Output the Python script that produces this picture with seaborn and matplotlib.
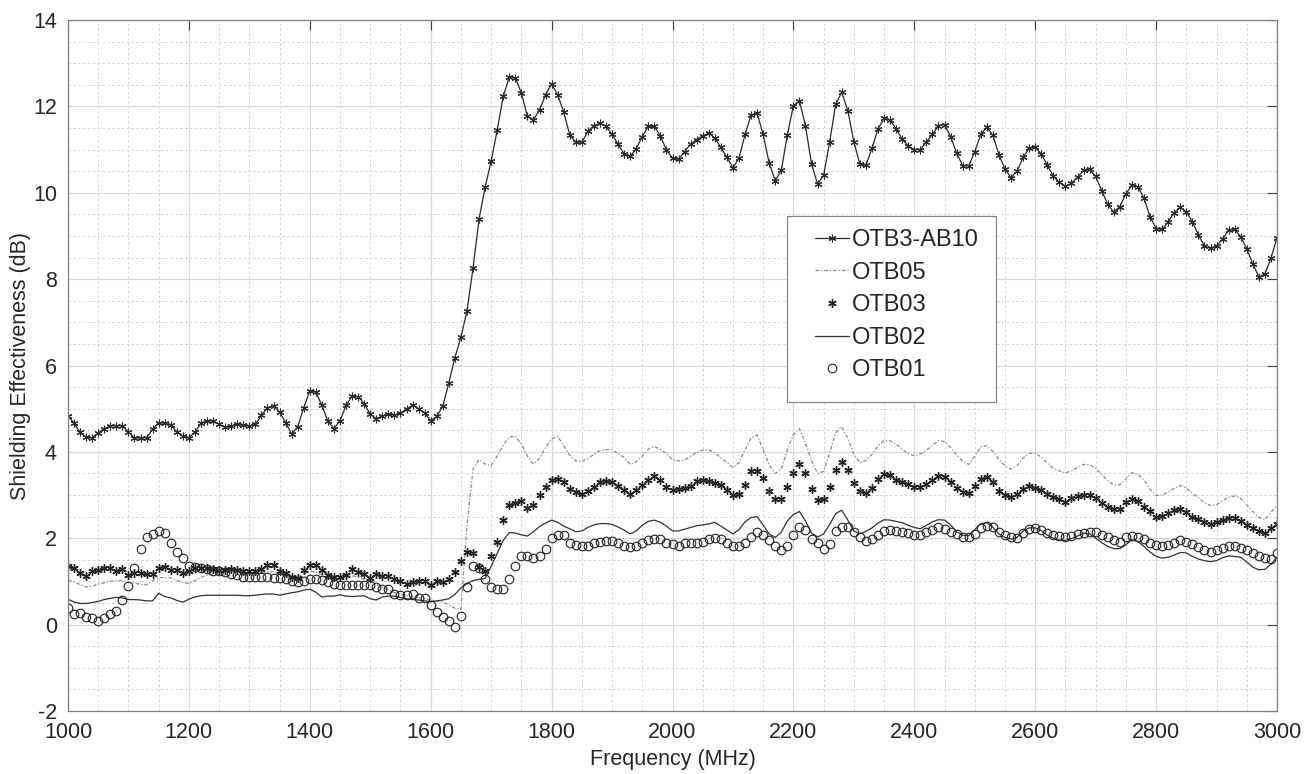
import numpy as np
import pandas as pd
import matplotlib
matplotlib.use("Agg")
import matplotlib.pyplot as plt
from matplotlib.ticker import MultipleLocator
from matplotlib.patches import Rectangle
import seaborn as sns

# Frequency axis (MHz), 10 MHz steps
freq = np.arange(1000, 3010, 10)

otb3_ab10 = [
 4.83,4.67,4.45,4.34,4.33,4.44,4.54,4.60,4.61,4.60,
 4.46,4.32,4.32,4.33,4.52,4.68,4.66,4.62,4.46,4.37,
 4.33,4.46,4.66,4.71,4.72,4.64,4.57,4.60,4.64,4.62,
 4.60,4.64,4.85,5.02,5.07,4.92,4.68,4.41,4.58,5.02,
 5.42,5.38,5.08,4.71,4.54,4.72,5.08,5.29,5.28,5.12,
 4.87,4.77,4.83,4.87,4.85,4.90,4.99,5.08,5.00,4.90,
 4.72,4.82,5.06,5.60,6.18,6.66,7.26,8.25,9.39,10.13,
 10.73,11.45,12.23,12.68,12.66,12.31,11.77,11.69,11.92,12.27,
 12.52,12.27,11.87,11.34,11.17,11.17,11.42,11.55,11.61,11.54,
 11.35,11.12,10.90,10.84,11.02,11.30,11.54,11.54,11.31,10.99,
 10.80,10.78,10.95,11.13,11.23,11.32,11.38,11.27,11.05,10.82,
 10.58,10.80,11.35,11.80,11.84,11.35,10.68,10.28,10.52,11.34,
 12.02,12.12,11.55,10.67,10.20,10.40,11.18,12.05,12.33,11.90,
 11.18,10.66,10.64,11.03,11.48,11.72,11.68,11.48,11.24,11.08,
 11.00,11.00,11.17,11.35,11.55,11.58,11.30,10.92,10.63,10.62,
 10.95,11.35,11.52,11.33,10.88,10.55,10.35,10.50,10.82,11.03,
 11.05,10.90,10.64,10.38,10.24,10.15,10.22,10.36,10.52,10.54,
 10.38,10.05,9.73,9.55,9.68,9.97,10.18,10.14,9.87,9.45,
 9.17,9.15,9.33,9.54,9.66,9.56,9.33,9.02,8.77,8.71,
 8.77,8.93,9.13,9.15,8.98,8.70,8.35,8.05,8.12,8.48,
 8.96]

otb05 = [
 1.02,0.99,0.93,0.87,0.89,0.94,0.97,1.00,1.02,1.02,
 0.98,0.96,0.93,0.92,1.02,1.09,1.09,1.08,1.03,0.98,
 0.95,1.02,1.10,1.14,1.17,1.16,1.13,1.13,1.15,1.16,
 1.15,1.15,1.18,1.22,1.23,1.18,1.12,1.07,1.10,1.18,
 1.24,1.22,1.15,1.08,1.05,1.08,1.13,1.13,1.10,1.05,
 1.00,0.93,0.87,0.80,0.74,0.70,0.67,0.65,0.63,0.60,
 0.57,0.55,0.52,0.46,0.38,0.35,2.30,3.60,3.82,3.72,
 3.68,3.90,4.15,4.35,4.36,4.18,3.90,3.72,3.85,4.10,
 4.30,4.36,4.14,3.92,3.79,3.78,3.85,3.94,4.03,4.05,
 4.05,3.96,3.87,3.71,3.77,3.90,4.06,4.12,4.06,3.96,
 3.82,3.79,3.81,3.90,3.99,4.04,4.05,3.98,3.86,3.76,
 3.64,3.75,4.05,4.32,4.39,4.05,3.70,3.50,3.60,4.05,
 4.40,4.54,4.20,3.80,3.50,3.55,3.98,4.45,4.58,4.32,
 3.95,3.75,3.80,3.94,4.14,4.26,4.26,4.18,4.06,3.96,
 3.91,3.95,4.04,4.15,4.26,4.24,4.10,3.93,3.79,3.71,
 3.90,4.12,4.14,4.01,3.82,3.68,3.60,3.68,3.86,3.96,
 3.97,3.88,3.74,3.62,3.56,3.51,3.56,3.64,3.71,3.70,
 3.62,3.48,3.33,3.23,3.24,3.37,3.52,3.48,3.35,3.13,
 2.99,3.00,3.07,3.16,3.22,3.16,3.04,2.94,2.82,2.76,
 2.78,2.87,2.95,2.98,2.92,2.77,2.62,2.48,2.43,2.60,
 2.76]

otb03 = [
 1.35,1.31,1.20,1.13,1.25,1.27,1.30,1.30,1.25,1.28,
 1.15,1.19,1.19,1.18,1.17,1.30,1.34,1.27,1.27,1.19,
 1.25,1.30,1.32,1.30,1.28,1.27,1.27,1.28,1.27,1.25,
 1.25,1.25,1.29,1.37,1.39,1.25,1.20,1.11,1.08,1.26,
 1.39,1.37,1.26,1.16,1.10,1.10,1.14,1.29,1.23,1.17,
 1.07,1.17,1.13,1.12,1.06,1.02,0.94,0.98,1.02,1.02,
 0.92,1.00,0.99,1.06,1.21,1.48,1.69,1.67,1.33,1.25,
 1.60,1.92,2.42,2.77,2.81,2.87,2.71,2.76,2.99,3.18,
 3.35,3.38,3.30,3.15,3.06,3.02,3.10,3.19,3.30,3.32,
 3.30,3.21,3.11,3.03,3.11,3.23,3.35,3.45,3.36,3.19,
 3.11,3.13,3.16,3.22,3.33,3.34,3.32,3.28,3.24,3.12,
 3.01,3.03,3.24,3.55,3.55,3.40,3.10,2.91,2.91,3.19,
 3.50,3.73,3.50,3.14,2.88,2.90,3.18,3.58,3.77,3.57,
 3.28,3.10,3.04,3.16,3.37,3.49,3.47,3.35,3.31,3.26,
 3.18,3.19,3.26,3.36,3.45,3.42,3.30,3.16,3.07,3.05,
 3.20,3.38,3.42,3.30,3.10,3.00,2.96,3.02,3.15,3.20,
 3.17,3.11,3.02,2.95,2.90,2.85,2.93,2.98,2.99,3.00,
 2.94,2.81,2.72,2.67,2.68,2.84,2.90,2.86,2.73,2.62,
 2.50,2.52,2.58,2.65,2.67,2.60,2.49,2.44,2.38,2.34,
 2.37,2.42,2.48,2.47,2.40,2.31,2.23,2.16,2.12,2.24,
 2.34]

otb02 = [
 0.59,0.52,0.49,0.49,0.51,0.54,0.58,0.61,0.63,0.62,
 0.58,0.58,0.57,0.55,0.55,0.73,0.65,0.62,0.56,0.52,
 0.59,0.64,0.67,0.68,0.68,0.68,0.68,0.68,0.68,0.67,
 0.67,0.68,0.70,0.71,0.71,0.68,0.71,0.74,0.76,0.80,
 0.82,0.75,0.64,0.66,0.66,0.69,0.66,0.65,0.66,0.67,
 0.60,0.57,0.64,0.66,0.66,0.63,0.60,0.58,0.57,0.55,
 0.53,0.55,0.57,0.60,0.70,0.85,0.95,1.02,1.05,1.07,
 1.35,1.65,1.95,2.13,2.12,2.08,2.05,2.15,2.27,2.35,
 2.42,2.37,2.28,2.22,2.15,2.17,2.25,2.31,2.34,2.34,
 2.32,2.26,2.19,2.10,2.17,2.30,2.39,2.42,2.37,2.28,
 2.17,2.17,2.21,2.25,2.29,2.31,2.33,2.37,2.28,2.19,
 2.10,2.20,2.38,2.48,2.50,2.30,2.10,2.02,2.14,2.40,
 2.55,2.62,2.40,2.12,2.03,2.10,2.32,2.57,2.65,2.42,
 2.17,2.10,2.16,2.24,2.35,2.43,2.42,2.39,2.36,2.30,
 2.25,2.22,2.30,2.38,2.43,2.42,2.31,2.15,2.07,2.06,
 2.20,2.34,2.36,2.25,2.10,2.02,1.98,2.02,2.17,2.24,
 2.24,2.18,2.07,2.00,1.96,1.95,1.99,2.05,2.12,2.10,
 2.00,1.90,1.81,1.76,1.76,1.85,1.97,1.92,1.81,1.68,
 1.58,1.54,1.56,1.61,1.67,1.66,1.58,1.52,1.48,1.46,
 1.48,1.55,1.59,1.58,1.56,1.45,1.33,1.27,1.28,1.40,
 1.56]

otb01 = [
 0.38,0.25,0.28,0.17,0.15,0.09,0.15,0.25,0.32,0.58,
 0.89,1.31,1.74,2.02,2.10,2.16,2.11,1.89,1.68,1.55,
 1.35,1.34,1.31,1.28,1.25,1.24,1.22,1.18,1.14,1.11,
 1.10,1.10,1.11,1.11,1.08,1.07,1.05,1.00,0.98,1.00,
 1.05,1.06,1.04,0.98,0.95,0.92,0.92,0.92,0.91,0.92,
 0.92,0.88,0.83,0.83,0.72,0.69,0.69,0.70,0.62,0.61,
 0.46,0.29,0.18,0.08,-0.05,0.21,0.86,1.36,1.30,1.05,
 0.87,0.83,0.82,1.06,1.36,1.58,1.59,1.55,1.60,1.75,
 2.01,2.07,2.07,1.90,1.84,1.81,1.82,1.90,1.92,1.94,
 1.94,1.89,1.83,1.79,1.82,1.90,1.95,1.98,1.98,1.90,
 1.86,1.82,1.88,1.90,1.90,1.92,1.98,2.00,1.98,1.90,
 1.82,1.81,1.89,2.03,2.15,2.08,1.96,1.82,1.73,1.82,
 2.08,2.25,2.20,1.98,1.88,1.76,1.86,2.16,2.25,2.27,
 2.15,2.02,1.94,1.98,2.08,2.16,2.18,2.16,2.15,2.12,
 2.08,2.08,2.14,2.19,2.26,2.22,2.15,2.10,2.04,2.04,
 2.10,2.24,2.29,2.25,2.14,2.07,2.04,2.00,2.13,2.22,
 2.24,2.20,2.12,2.08,2.05,2.04,2.05,2.09,2.13,2.15,
 2.15,2.08,2.02,1.96,1.92,2.02,2.06,2.04,1.98,1.90,
 1.84,1.82,1.85,1.90,1.95,1.92,1.86,1.80,1.72,1.69,
 1.72,1.77,1.81,1.82,1.78,1.73,1.66,1.60,1.55,1.52,
 1.66]

x_ticks = [1000, 1200, 1400, 1600, 1800, 2000, 2200, 2400, 2600, 2800, 3000]
y_ticks = [-2, 0, 2, 4, 6, 8, 10, 12, 14]

sns.set_style("white")
plt.rcParams['font.family'] = ['Liberation Sans', 'DejaVu Sans']
plt.rcParams['axes.unicode_minus'] = False

W, H = 1304, 774
L, R, T, B = 68, 1277, 20, 711
fig = plt.figure(figsize=(W / 100, H / 100), dpi=100)
ax = fig.add_axes([L / W, 1 - B / H, (R - L) / W, (B - T) / H])

df = pd.DataFrame({"freq": freq, "OTB3-AB10": otb3_ab10, "OTB05": otb05,
                   "OTB03": otb03, "OTB02": otb02, "OTB01": otb01})

asterisk = (6, 2, 0)

sns.lineplot(data=df, x="freq", y="OTB3-AB10", ax=ax, color="#2a2a2a", lw=0.9,
             marker=asterisk, markersize=5.5, markeredgewidth=0.8,
             markeredgecolor="#2a2a2a", label="OTB3-AB10")
sns.lineplot(data=df, x="freq", y="OTB05", ax=ax, color="#8a8a8a", lw=0.9,
             linestyle=(0, (3, 1.5, 1, 1.5)), label="OTB05")
sns.lineplot(data=df, x="freq", y="OTB03", ax=ax, color="#222222", lw=0,
             linestyle="none", marker=asterisk, markersize=6,
             markeredgewidth=1.0, markeredgecolor="#222222", label="OTB03")
sns.lineplot(data=df, x="freq", y="OTB02", ax=ax, color="#333333", lw=0.9,
             label="OTB02")
sns.lineplot(data=df, x="freq", y="OTB01", ax=ax, color="#222222", lw=0,
             linestyle="none", marker="o", markersize=6.2,
             markerfacecolor="none", markeredgewidth=0.8,
             markeredgecolor="#222222", label="OTB01")

ax.set_xlim(1000, 3000)
ax.set_ylim(-2, 14)
ax.set_xticks(x_ticks)
ax.set_yticks(y_ticks)
ax.xaxis.set_minor_locator(MultipleLocator(50))
ax.yaxis.set_minor_locator(MultipleLocator(0.5))
ax.grid(which="major", color="#d9d9d9", lw=0.9, ls="-")
ax.grid(which="minor", color="#d4d4d4", lw=0.7, ls=(0, (2.5, 2.5)))
ax.set_axisbelow(True)
ax.tick_params(which="major", direction="in", length=7, width=0.8,
               colors="#404040", labelcolor="#262626", labelsize=15.5,
               top=True, right=True)
ax.tick_params(axis="x", which="major", pad=8)
ax.tick_params(axis="y", which="major", pad=8)
ax.tick_params(which="minor", length=0, top=True, right=True)
for s in ax.spines.values():
    s.set_color("#808080")
    s.set_linewidth(0.9)

ax.set_xlabel("Frequency (MHz)", fontsize=15.5, color="#262626", labelpad=4)
ax.set_ylabel("Shielding Effectiveness (dB)", fontsize=15.5, color="#262626",
              labelpad=1)

# legend entries (frameless) placed inside a separately drawn box
axw, axh = R - L, B - T
leg = ax.legend(loc="upper left",
                bbox_to_anchor=((815 - L) / axw, (B - 229) / axh),
                fontsize=17, frameon=False, handlelength=1.45,
                handletextpad=0.1, labelspacing=0.45, borderpad=0,
                borderaxespad=0)
leg.set_zorder(6)
box = Rectangle(((787 - L) / axw, (B - 402) / axh), (996 - 787) / axw,
                (402 - 216) / axh, transform=ax.transAxes, facecolor="white",
                edgecolor="#888888", lw=0.9, zorder=5)
ax.add_patch(box)

fig.savefig("out.png", dpi=100)
